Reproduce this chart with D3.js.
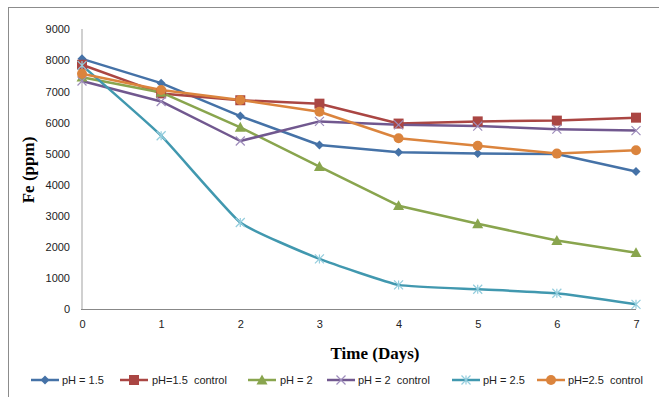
<!DOCTYPE html>
<html><head><meta charset="utf-8">
<script src="https://cdn.jsdelivr.net/npm/d3@7"></script>
<style>body{margin:0;background:#fff}svg{display:block}</style>
</head><body>
<svg id="c" width="659" height="397"></svg>
<script>
const days = [0,1,2,3,4,5,6,7];
const yTicks = [0,1000,2000,3000,4000,5000,6000,7000,8000,9000];
const seriesNames = ["pH = 1.5","pH=1.5  control","pH = 2","pH = 2  control","pH = 2.5","pH=2.5  control"];
const ph15 = [8040,7260,6200,5270,5040,4995,4985,4420];
const ph15c = [7850,6930,6710,6600,5960,6030,6055,6150];
const ph2 = [7450,6960,5840,4580,3320,2740,2200,1810];
const ph2c = [7330,6670,5400,6030,5920,5880,5780,5735];
const ph25 = [7830,5570,2780,1610,775,635,505,150];
const ph25c = [7560,7040,6720,6340,5490,5250,4995,5100];
const colors = ["#4572A7","#AA4643","#89A54E","#71588F","#4198AF","#DB843D"];
const markerColors = ["#4572A7","#AA4643","#89A54E","#9d8cbb","#93cddd","#DB843D"];
const markers = ["diamond","square","triangle","x","star","circle"];
const values = [ph15,ph15c,ph2,ph2c,ph25,ph25c];

const svg = d3.select("#c");
svg.append("rect").attr("x",8.5).attr("y",7.5).attr("width",720).attr("height",500)
  .attr("fill","none").attr("stroke","#8c8c8c").attr("stroke-width",1);

const x = d3.scaleLinear().domain([0,7]).range([82,636]);
const y = d3.scaleLinear().domain([0,9000]).range([309,29]);

svg.append("line").attr("x1",x(0)).attr("x2",x(0)).attr("y1",y(9000)).attr("y2",y(0))
  .attr("stroke","#d0d0d0").attr("stroke-width",2);
svg.append("line").attr("x1",x(0)-1).attr("x2",x(7)).attr("y1",y(0)+0.5).attr("y2",y(0)+0.5)
  .attr("stroke","#888").attr("stroke-width",1);

const yAxis = d3.axisLeft(y).tickValues(yTicks).tickSize(0).tickPadding(0).tickFormat(d3.format("d"));
const ga = svg.append("g").attr("transform","translate(70,0)").call(yAxis);
ga.select(".domain").remove();
ga.selectAll("text").attr("font-family","'Liberation Sans', Arial, sans-serif").attr("font-size",11).attr("fill","#222").attr("dy","0.35em");

const xAxis = d3.axisBottom(x).tickValues(days).tickSize(0).tickPadding(0).tickFormat(d3.format("d"));
const gx = svg.append("g").attr("transform","translate(0,324)").call(xAxis);
gx.select(".domain").remove();
gx.selectAll("text").attr("font-family","'Liberation Sans', Arial, sans-serif").attr("font-size",11).attr("fill","#222").attr("dy","0.35em");

svg.append("text").attr("transform","translate(34,170) rotate(-90)").attr("text-anchor","middle")
  .attr("font-family","'Liberation Serif','Times New Roman',serif").attr("font-weight","bold").attr("font-size",17).attr("fill","#000").text("Fe (ppm)");
svg.append("text").attr("x",375).attr("y",359).attr("text-anchor","middle")
  .attr("font-family","'Liberation Serif','Times New Roman',serif").attr("font-weight","bold").attr("font-size",17).attr("fill","#000").text("Time (Days)");

function drawMarker(g, type, cx, cy, col, scale){
  scale = scale||1;
  if(type==="diamond"){
    const s=4.5*scale;
    g.append("path").attr("d",`M${cx},${cy-s}L${cx+s},${cy}L${cx},${cy+s}L${cx-s},${cy}Z`).attr("fill",col);
  } else if(type==="square"){
    const s=5*scale;
    g.append("rect").attr("x",cx-s).attr("y",cy-s).attr("width",2*s).attr("height",2*s).attr("fill",col);
  } else if(type==="triangle"){
    const s=5.5*scale;
    g.append("path").attr("d",`M${cx},${cy-s}L${cx+s},${cy+s*0.8}L${cx-s},${cy+s*0.8}Z`).attr("fill",col);
  } else if(type==="circle"){
    g.append("circle").attr("cx",cx).attr("cy",cy).attr("r",5*scale).attr("fill",col);
  } else if(type==="x"){
    const s=4.5*scale;
    g.append("path").attr("d",`M${cx-s},${cy-s}L${cx+s},${cy+s}M${cx-s},${cy+s}L${cx+s},${cy-s}`).attr("stroke",col).attr("stroke-width",1.2).attr("fill","none");
  } else if(type==="star"){
    const s=4.5*scale;
    g.append("path").attr("d",`M${cx-s},${cy-s}L${cx+s},${cy+s}M${cx-s},${cy+s}L${cx+s},${cy-s}M${cx},${cy-s}L${cx},${cy+s}`).attr("stroke",col).attr("stroke-width",1.2).attr("fill","none");
  }
}

const plot = svg.append("g");
values.forEach((vals,i)=>{
  const line = d3.line().x((d,j)=>x(days[j])).y(d=>y(d));
  if(i===4) line.curve(d3.curveCardinal.tension(0.6));
  plot.append("path").datum(vals).attr("d",line).attr("fill","none")
    .attr("stroke",colors[i]).attr("stroke-width",2.5).attr("stroke-linejoin","round");
});
values.forEach((vals,i)=>{
  const g = plot.append("g");
  vals.forEach((v,j)=>drawMarker(g,markers[i],x(days[j]),y(v),markerColors[i]));
});

const legX = [31,120,248,327,452,537];
const legTextX = [62,152,280,358,483,568];
const ly = 380;
seriesNames.forEach((n,i)=>{
  const g = svg.append("g");
  g.append("line").attr("x1",legX[i]).attr("x2",legX[i]+28).attr("y1",ly).attr("y2",ly)
    .attr("stroke",colors[i]).attr("stroke-width",2.5);
  drawMarker(g,markers[i],legX[i]+14,ly,markerColors[i]);
  g.append("text").attr("x",legTextX[i]).attr("y",ly).attr("dy","0.35em")
    .attr("font-family","'Liberation Sans', Arial, sans-serif").attr("font-size",11).attr("fill","#222").text(n)
    .style("white-space","pre");
});
</script>
</body></html>
